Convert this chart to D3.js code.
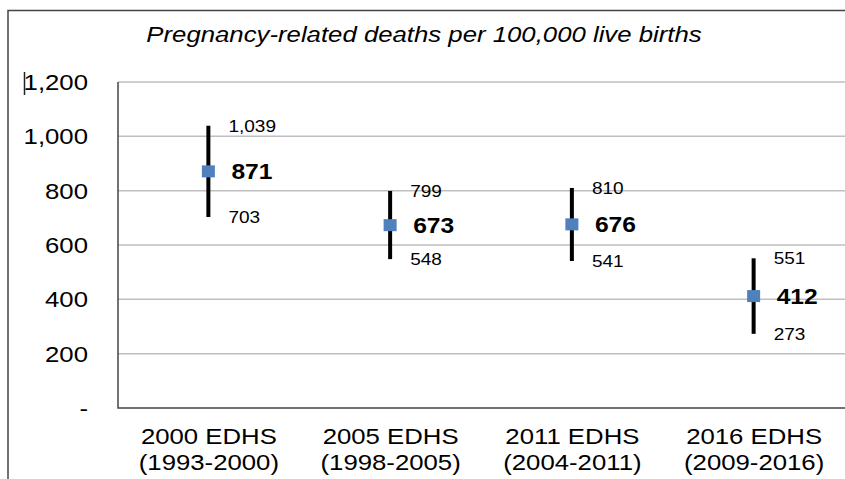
<!DOCTYPE html>
<html>
<head>
<meta charset="utf-8">
<script src="https://cdn.jsdelivr.net/npm/d3@7"></script>
<style>
    body { margin: 0; background: #fff; }
    text { font-family: "Liberation Sans", Arial, sans-serif; fill: #000; }
</style>
</head>
<body>
<svg id="chart"></svg>
<script>
var surveys = ["2000 EDHS", "2005 EDHS", "2011 EDHS", "2016 EDHS"];
var periods = ["(1993-2000)", "(1998-2005)", "(2004-2011)", "(2009-2016)"];
var estimates = [871, 673, 676, 412];
var lowerCI = [703, 548, 541, 273];
var upperCI = [1039, 799, 810, 551];
var yTicks = [0, 200, 400, 600, 800, 1000, 1200];
var yTickLabels = ["-", "200", "400", "600", "800", "1,000", "1,200"];
var title = "Pregnancy-related deaths per 100,000 live births";

var width = 845, height = 479,
    margin = {top: 82, right: 0, bottom: 71, left: 118},
    sx = 1.12; // text in the source is stretched horizontally

var svg = d3.select("#chart")
    .attr("width", width)
    .attr("height", height);

// outer frame (only top and left visible)
svg.append("path")
    .attr("d", "M8," + height + "V10.5H" + width)
    .attr("fill", "none")
    .attr("stroke", "#444")
    .attr("stroke-width", 1.5);

var x = d3.scaleBand()
    .domain(surveys)
    .range([margin.left, width - margin.right]);

var y = d3.scaleLinear()
    .domain([0, 1200])
    .range([height - margin.bottom, margin.top]);

function stretchText(parent, tx, ty) {
    return parent.append("text")
        .attr("transform", "translate(" + tx + "," + ty + ") scale(" + sx + ",1)");
}

// gridlines
svg.append("g")
    .selectAll("line")
    .data(yTicks.filter(function (d) { return d > 0; }))
    .enter().append("line")
    .attr("x1", margin.left)
    .attr("x2", width)
    .attr("y1", function (d) { return y(d); })
    .attr("y2", function (d) { return y(d); })
    .attr("stroke", "#bfbfbf")
    .attr("stroke-width", 1.5);

// axis lines
svg.append("path")
    .attr("d", "M" + margin.left + "," + y(1200) + "V" + y(0) + "H" + width)
    .attr("fill", "none")
    .attr("stroke", "#444")
    .attr("stroke-width", 1.5);

// y tick labels
yTicks.forEach(function (t, i) {
    stretchText(svg, 88, y(t) + 8)
        .attr("text-anchor", "end")
        .style("font-size", "23px")
        .text(yTickLabels[i]);
});

// cursor mark in front of the top label
svg.append("line")
    .attr("x1", 24.5).attr("x2", 24.5)
    .attr("y1", 72).attr("y2", 95)
    .attr("stroke", "#222")
    .attr("stroke-width", 1.5);

// title
stretchText(svg, 424, 42)
    .attr("text-anchor", "middle")
    .style("font-size", "23px")
    .style("font-style", "italic")
    .text(title);

// category labels
surveys.forEach(function (s, i) {
    var cx = x(s) + x.bandwidth() / 2;
    stretchText(svg, cx, 444)
        .attr("text-anchor", "middle")
        .style("font-size", "23px")
        .text(s);
    stretchText(svg, cx, 470)
        .attr("text-anchor", "middle")
        .style("font-size", "23px")
        .text(periods[i]);
});

// error bars, markers, labels
var marks = svg.append("g");
surveys.forEach(function (s, i) {
    var cx = x(s) + x.bandwidth() / 2 - 0.5;
    marks.append("line")
        .attr("x1", cx).attr("x2", cx)
        .attr("y1", y(lowerCI[i]))
        .attr("y2", y(upperCI[i]))
        .attr("stroke", "#000")
        .attr("stroke-width", 4);
    marks.append("rect")
        .attr("x", cx - 6.5)
        .attr("y", y(estimates[i]) - 6)
        .attr("width", 13)
        .attr("height", 12)
        .attr("fill", "#4f81bd");
    stretchText(marks, cx + 20, y(upperCI[i]) + 6)
        .style("font-size", "17px")
        .text(d3.format(",")(upperCI[i]));
    stretchText(marks, cx + 20, y(lowerCI[i]) + 6)
        .style("font-size", "17px")
        .text(d3.format(",")(lowerCI[i]));
    stretchText(marks, cx + 23, y(estimates[i]) + 8)
        .style("font-size", "22px")
        .style("font-weight", "bold")
        .text(d3.format(",")(estimates[i]));
});
</script>
</body>
</html>
